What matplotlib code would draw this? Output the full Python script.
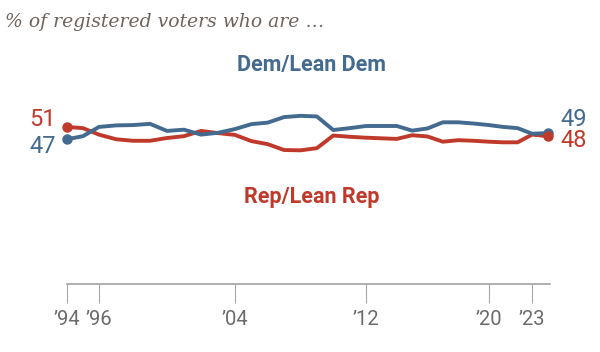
import numpy as np
import matplotlib
matplotlib.use("Agg")
import matplotlib.pyplot as plt

# Party identification among registered voters, %
years = list(range(1994, 2025))
dem = [47, 48, 51, 51.5, 51.6, 52, 49.7, 50.1, 48.5, 49.1, 50.3,
       51.9, 52.4, 54.2, 54.6, 54.4, 50.0, 50.6, 51.3, 51.3, 51.3,
       49.8, 50.5, 52.5, 52.5, 52.1, 51.6, 51.0, 50.6, 48.8, 49]
rep = [51, 50.6, 48.5, 47, 46.5, 46.5, 47.4, 48, 49.7, 49, 48.4,
       46.4, 45.4, 43.5, 43.4, 44.1, 48.2, 47.8, 47.5, 47.3, 47.1,
       48.3, 47.9, 46.2, 46.7, 46.5, 46.2, 46.0, 46.0, 48.5, 48]
tick_years = [1994, 1996, 2004, 2012, 2020, 2023]
tick_labels = ["\u201994", "\u201996", "\u201904", "\u201912", "\u201920", "\u201923"]

DEM_COLOR = "#436a8f"
REP_COLOR = "#bf3a2b"
GREY = "#6b6b6b"

# the original axis is not evenly spaced between labelled years
scale_years = [1994, 1996, 2004, 2012, 2020, 2023, 2024]
scale_pos = [67, 99, 235, 366, 489, 532, 548]


def interp_ext(v, xs, ys):
    v = np.asarray(v, dtype=float)
    flat = np.atleast_1d(v).ravel()
    out = np.interp(flat, xs, ys)
    lo = flat < xs[0]
    hi = flat > xs[-1]
    out[lo] = ys[0] + (flat[lo] - xs[0]) * (ys[1] - ys[0]) / (xs[1] - xs[0])
    out[hi] = ys[-1] + (flat[hi] - xs[-1]) * (ys[-1] - ys[-2]) / (xs[-1] - xs[-2])
    return out.reshape(np.shape(v))


def fwd(v):
    return interp_ext(v, scale_years, scale_pos)


def inv(v):
    return interp_ext(v, scale_pos, scale_years)


fig = plt.figure(figsize=(6, 3.52), dpi=100)
ax = fig.add_axes([67 / 600, 1 - 284 / 352, (550 - 67) / 600, 246.4 / 352])
ax.set_xscale("function", functions=(fwd, inv))

ax.plot(years, dem, color=DEM_COLOR, lw=2.8, solid_joinstyle="round", zorder=3)
ax.plot(years, rep, color=REP_COLOR, lw=2.8, solid_joinstyle="round", zorder=2)
for series, color in [(dem, DEM_COLOR), (rep, REP_COLOR)]:
    ax.plot([years[0], years[-1]], [series[0], series[-1]], "o", color=color,
            ms=6.5, clip_on=False, zorder=4)

ax.set_xlim(1994, 2024.125)
ax.set_ylim(0, 80)

for s in ["top", "right", "left"]:
    ax.spines[s].set_visible(False)
ax.spines["bottom"].set_color("#9a9a9a")
ax.spines["bottom"].set_linewidth(1.1)
ax.set_yticks([])
ax.set_xticks(tick_years)
ax.set_xticklabels(tick_labels)
ax.tick_params(axis="x", direction="out", length=14, width=0.8, color="#a8a8a8",
               pad=5, labelsize=14.5, labelcolor=GREY)
for lab in ax.get_xticklabels():
    lab.set_family("Roboto")
ax.minorticks_off()

num_font = dict(family="Roboto", fontsize=17)
ax.annotate(f"{rep[0]:.0f}", xy=(years[0], rep[0]), xytext=(-8, 5),
            textcoords="offset points", ha="right", va="center", color=REP_COLOR, **num_font)
ax.annotate(f"{dem[0]:.0f}", xy=(years[0], dem[0]), xytext=(-8, -5),
            textcoords="offset points", ha="right", va="center", color=DEM_COLOR, **num_font)
ax.annotate(f"{dem[-1]:.0f}", xy=(years[-1], dem[-1]), xytext=(9, 10),
            textcoords="offset points", ha="left", va="center", color=DEM_COLOR, **num_font)
ax.annotate(f"{rep[-1]:.0f}", xy=(years[-1], rep[-1]), xytext=(9, -3),
            textcoords="offset points", ha="left", va="center", color=REP_COLOR, **num_font)

ax.text(2008.7, 71.1, "Dem/Lean Dem", ha="center", va="center", color=DEM_COLOR,
        fontsize=15.5, fontweight="bold", family="Roboto")
ax.text(2008.7, 28.3, "Rep/Lean Rep", ha="center", va="center", color=REP_COLOR,
        fontsize=15.5, fontweight="bold", family="Roboto")

fig.text(0.008, 1 - 22 / 352, "% of registered voters who are \u2026", ha="left",
         va="center", fontsize=13.5, style="italic", family="DejaVu Serif", color="#6e645d")

fig.savefig("out.png", dpi=100)
